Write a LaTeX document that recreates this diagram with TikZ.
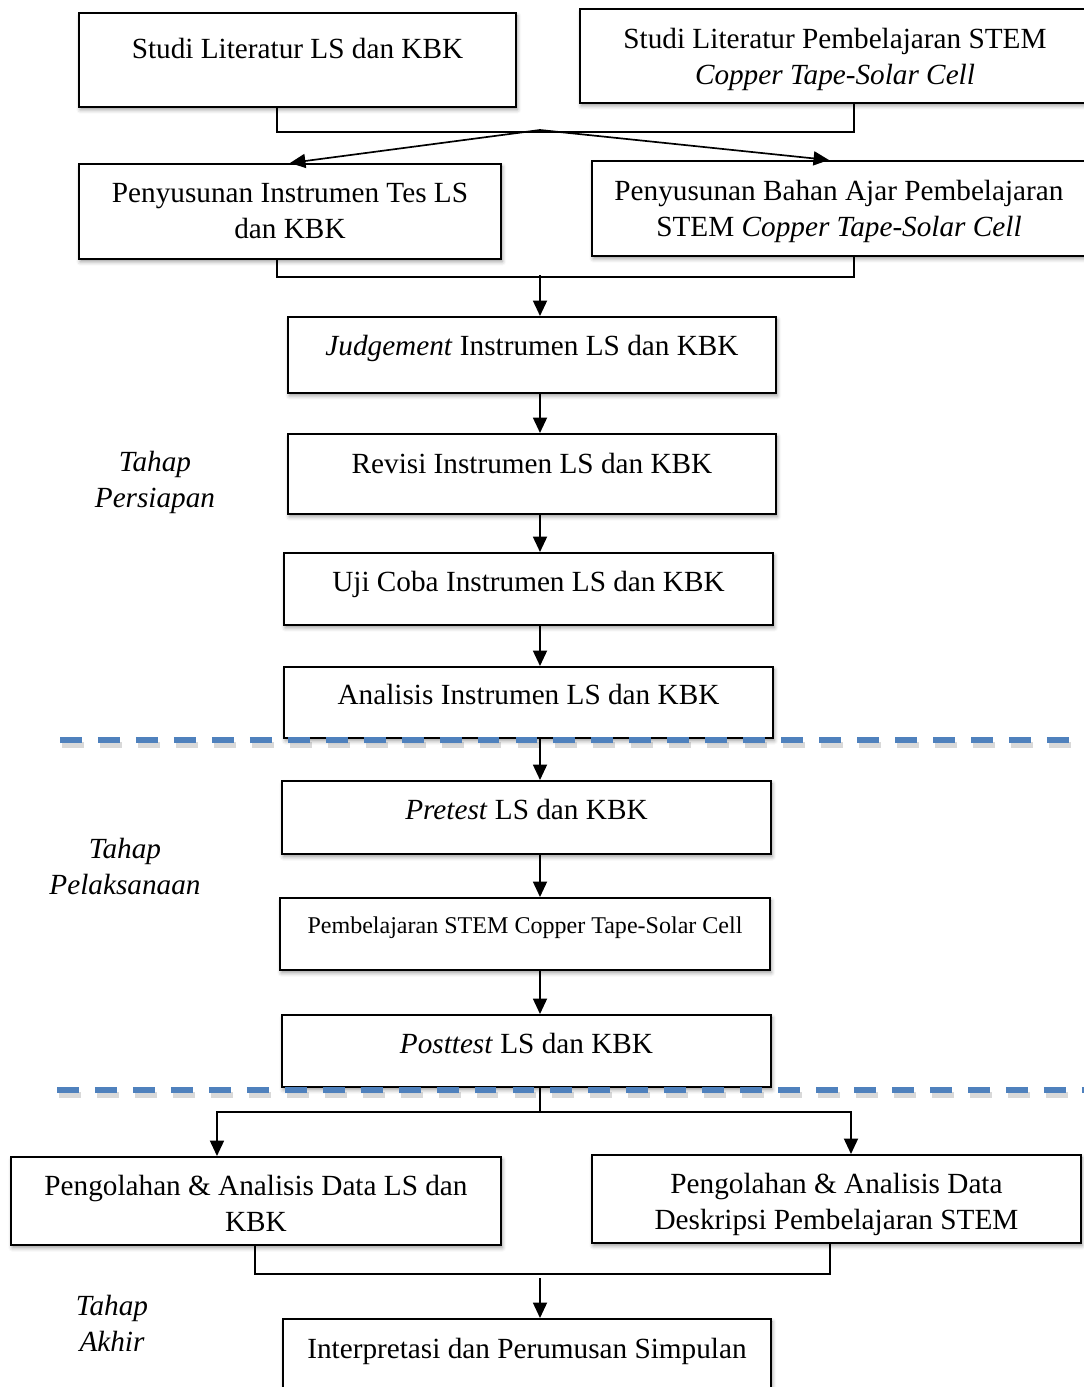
\documentclass[tikz,border=0pt]{standalone}
\usepackage{fontspec}
\setmainfont{Liberation Serif}
\usepackage{tikz}
\usetikzlibrary{arrows.meta,calc,shadows.blur}

\newlength{\pxu}
\setlength{\pxu}{0.25mm}
% box text: width, height, top gap (px), text
\newcommand{\boxtext}[4]{\parbox[t][#2\pxu][t]{#1\pxu}{\centering\vspace*{#3\pxu}#4}}

\definecolor{phaseblue}{RGB}{79,129,189}

\tikzset{
  stepbox/.style={draw, line width=1.4pt, fill=white, inner sep=0pt, anchor=north west,
    font=\fontsize{20.8}{25.6}\selectfont,
    blur shadow={shadow xshift=0.9pt, shadow yshift=-2pt, shadow blur radius=2.8pt, shadow opacity=40}},
  line/.style={line width=1.2pt},
  arrow/.style={line width=1.2pt, -{Triangle[length=11pt, width=10pt]}},
  phase/.style={align=center, font=\fontsize{20.8}{25.6}\selectfont\itshape},
  phaseline/.style={phaseblue, line width=3.75pt, dash pattern=on 15.6pt off 11.4pt},
  phaseshadow/.style={black!60, opacity=0.25, line width=4.5pt, dash pattern=on 15.6pt off 11.4pt}
}

\begin{document}
\begin{tikzpicture}[x=0.25mm, y=-0.25mm]
    \useasboundingbox (0,0) rectangle (1084,1387);

    % Studi literatur
    \node (lita) [stepbox] at (78,12) {\boxtext{437}{94}{25}{Studi Literatur LS dan KBK}};
    \node (litb) [stepbox] at (579,8) {\boxtext{510}{94}{19}{Studi Literatur Pembelajaran STEM\\\textit{Copper Tape-Solar Cell}}};

    % Penyusunan
    \node (penyinst) [stepbox] at (78,163) {\boxtext{422}{95}{19}{Penyusunan Instrumen Tes LS\\dan KBK}};
    \node (penybahan) [stepbox] at (591,160) {\boxtext{494}{95}{19}{Penyusunan Bahan Ajar Pembelajaran\\STEM \textit{Copper Tape-Solar Cell}}};

    % Instrumen
    \node (judge) [stepbox] at (287,316) {\boxtext{488}{76}{18}{\textit{Judgement} Instrumen LS dan KBK}};
    \node (revisi) [stepbox] at (287,433) {\boxtext{488}{80}{19}{Revisi Instrumen LS dan KBK}};
    \node (ujicoba) [stepbox] at (283,552) {\boxtext{489}{72}{18}{Uji Coba Instrumen LS dan KBK}};
    \node (analisis) [stepbox] at (283,666) {\boxtext{489}{71}{17}{Analisis Instrumen LS dan KBK}};

    % Pelaksanaan
    \node (pretest) [stepbox] at (281,780) {\boxtext{489}{73}{18}{\textit{Pretest} LS dan KBK}};
    \node (pembelajaran) [stepbox, font=\fontsize{17.1}{21}\selectfont] at (279,897) {\boxtext{490}{72}{19}{Pembelajaran STEM Copper Tape-Solar Cell}};
    \node (posttest) [stepbox] at (281,1014) {\boxtext{489}{72}{18}{\textit{Posttest} LS dan KBK}};

    % Akhir
    \node (olahls) [stepbox] at (10,1156) {\boxtext{490}{88}{18}{Pengolahan \& Analisis Data LS dan\\KBK}};
    \node (olahstem) [stepbox] at (591,1154) {\boxtext{489}{88}{18}{Pengolahan \& Analisis Data\\Deskripsi Pembelajaran STEM}};
    \node (simpulan) [stepbox] at (282,1318) {\boxtext{488}{100}{19}{Interpretasi dan Perumusan Simpulan}};

    % Tahap
    \node (persiapan) [phase] at (155,482) {Tahap\\Persiapan};
    \node (pelaksanaan) [phase] at (125,866) {Tahap\\Pelaksanaan};
    \node (akhir) [phase] at (112,1323) {Tahap\\Akhir};

    % connectors
    \coordinate (split) at (540,130);
    \coordinate (join) at (540,275);
    \coordinate (fork) at (540,1112);
    \coordinate (merge) at (540,1278);

    \draw [line] ($(lita.south)+(-20.5,0)$) -- ++(0,24) -| ($(litb.south)+(19,0)$);
    \draw [arrow] (split) -- (penyinst.north);
    \draw [arrow] (split) -- ($(penybahan.north)+(-10,0)$);

    \draw [line] ($(penyinst.south)+(-13,0)$) -- ++(0,17) -| ($(penybahan.south)+(15,0)$);
    \draw [arrow] (join) -- (join |- judge.north);

    \draw [arrow] (judge.south -| join) -- (revisi.north -| join);
    \draw [arrow] (revisi.south -| join) -- (ujicoba.north -| join);
    \draw [arrow] (ujicoba.south -| join) -- (analisis.north -| join);
    \draw [arrow] (analisis.south -| join) -- (pretest.north -| join);
    \draw [arrow] (pretest.south -| join) -- (pembelajaran.north -| join);
    \draw [arrow] (pembelajaran.south -| join) -- (posttest.north -| join);

    \draw [line] (posttest.south -| fork) -- (fork);
    \draw [arrow] (fork) -| ($(olahls.north)+(-39,0)$);
    \draw [arrow] (fork) -| ($(olahstem.north)+(14.5,0)$);

    \draw [line] ($(olahls.south)+(-1,0)$) -- ++(0,28) -| ($(olahstem.south)+(-6.5,0)$);
    \draw [arrow] (merge) -- (merge |- simpulan.north);

    % phase borders
    \draw [phaseshadow] (62,745) -- (1100,745);
    \draw [phaseline] (60,740) -- (1100,740);
    \draw [phaseshadow] (59,1095) -- (1100,1095);
    \draw [phaseline] (57,1090) -- (1100,1090);
\end{tikzpicture}
\end{document}
